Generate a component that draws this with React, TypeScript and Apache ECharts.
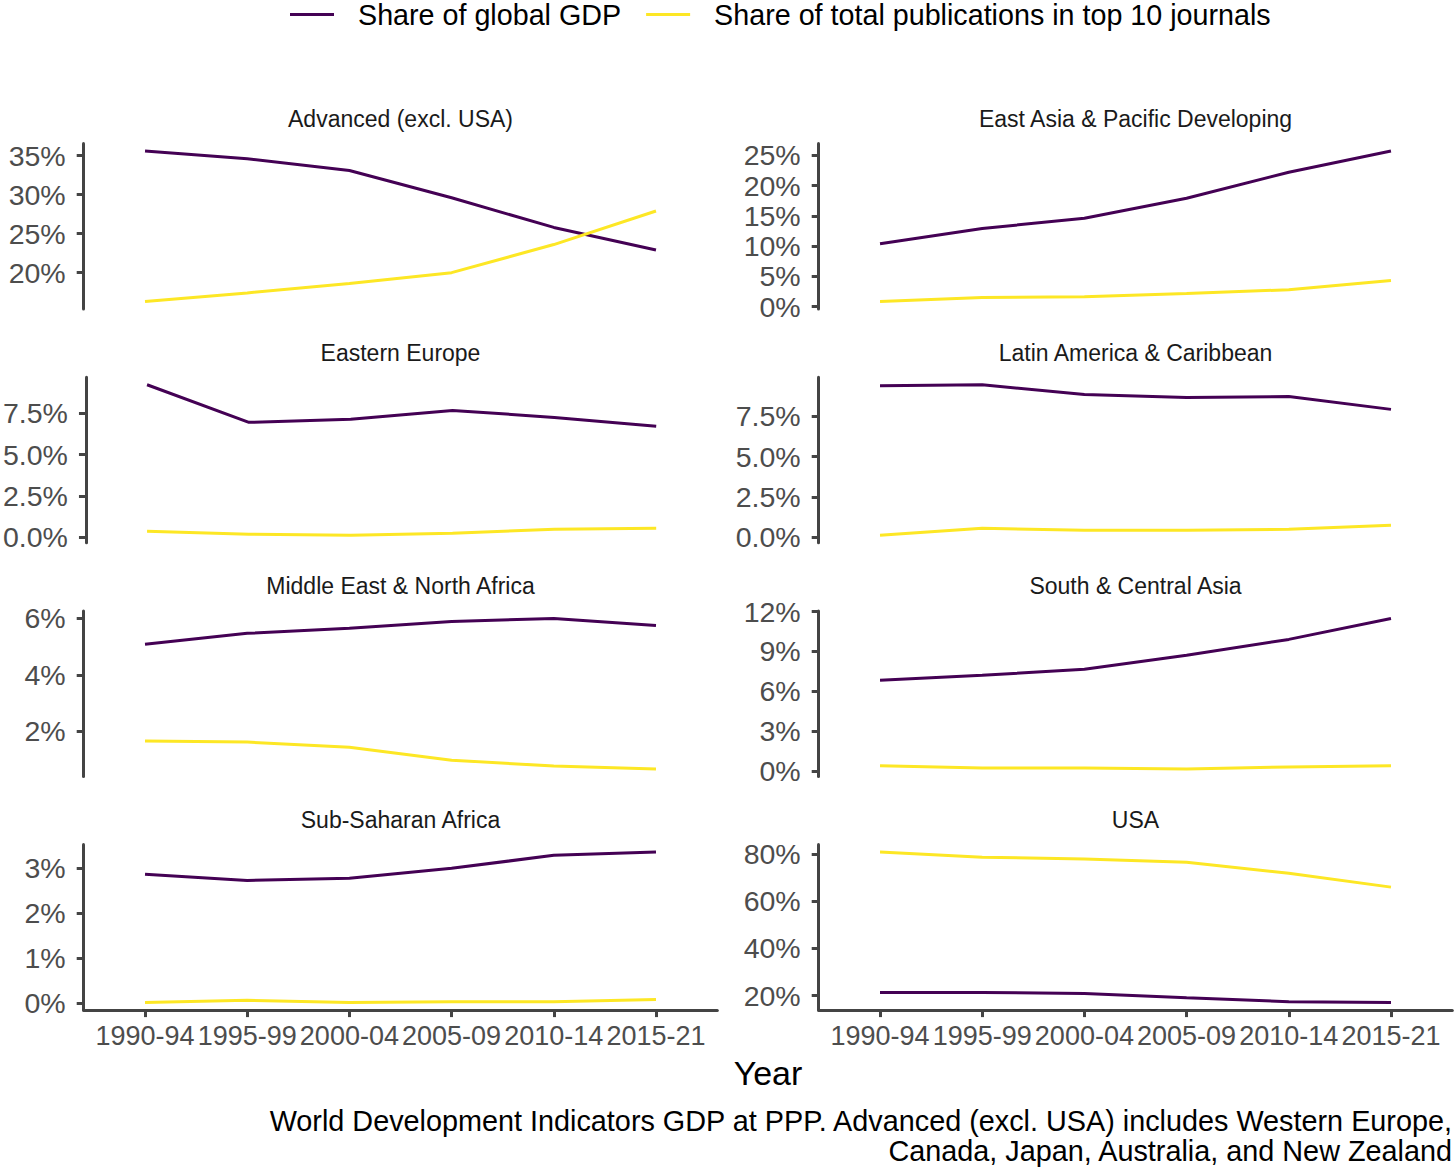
import React, { useEffect, useRef } from "react";
import * as echarts from "echarts";

const periods = ["1990-94", "1995-99", "2000-04", "2005-09", "2010-14", "2015-21"];
const seriesNames = ["Share of global GDP", "Share of total publications in top 10 journals"];
const regionNames = [
  "Advanced (excl. USA)",
  "East Asia & Pacific Developing",
  "Eastern Europe",
  "Latin America & Caribbean",
  "Middle East & North Africa",
  "South & Central Asia",
  "Sub-Saharan Africa",
  "USA",
];

const gdpAdvanced = [35.6, 34.6, 33.1, 29.6, 25.8, 22.9];
const pubAdvanced = [16.3, 17.4, 18.6, 20.0, 23.6, 27.9];
const gdpEastAsia = [10.4, 12.9, 14.6, 17.9, 22.2, 25.7];
const pubEastAsia = [0.85, 1.5, 1.65, 2.15, 2.8, 4.3];
const gdpEasternEurope = [9.24, 6.96, 7.14, 7.68, 7.26, 6.72];
const pubEasternEurope = [0.36, 0.18, 0.12, 0.24, 0.48, 0.54];
const gdpLatAm = [9.4, 9.46, 8.85, 8.67, 8.73, 7.93];
const pubLatAm = [0.12, 0.55, 0.43, 0.43, 0.49, 0.74];
const gdpMENA = [5.08, 5.47, 5.65, 5.89, 6.0, 5.75];
const pubMENA = [1.65, 1.61, 1.43, 0.97, 0.76, 0.66];
const gdpSCAsia = [6.83, 7.2, 7.65, 8.7, 9.9, 11.48];
const pubSCAsia = [0.38, 0.22, 0.22, 0.15, 0.3, 0.38];
const gdpSSA = [2.87, 2.73, 2.78, 3.0, 3.29, 3.36];
const pubSSA = [0.02, 0.07, 0.02, 0.04, 0.04, 0.09];
const gdpUSA = [21.3, 21.3, 20.85, 19.1, 17.4, 17.0];
const pubUSA = [80.85, 78.7, 77.9, 76.6, 71.9, 66.0];

const ticksAdvanced = [20, 25, 30, 35];
const ticksEastAsia = [0, 5, 10, 15, 20, 25];
const ticksEasternEurope = [0, 2.5, 5, 7.5];
const ticksLatAm = [0, 2.5, 5, 7.5];
const ticksMENA = [2, 4, 6];
const ticksSCAsia = [0, 3, 6, 9, 12];
const ticksSSA = [0, 1, 2, 3];
const ticksUSA = [20, 40, 60, 80];
const tickDecimals = [0, 0, 1, 1, 0, 0, 0, 0];

const gdpSeries = [gdpAdvanced, gdpEastAsia, gdpEasternEurope, gdpLatAm, gdpMENA, gdpSCAsia, gdpSSA, gdpUSA];
const pubSeries = [pubAdvanced, pubEastAsia, pubEasternEurope, pubLatAm, pubMENA, pubSCAsia, pubSSA, pubUSA];
const tickSets = [ticksAdvanced, ticksEastAsia, ticksEasternEurope, ticksLatAm, ticksMENA, ticksSCAsia, ticksSSA, ticksUSA];

const FONT = "'Liberation Sans', Arial, sans-serif";
const PURPLE = "#440154";
const YELLOW = "#FDE725";
const AXIS = "#444444";

export default function App() {
  const ref = useRef<HTMLDivElement>(null);
  useEffect(() => {
    if (!ref.current) return;
    const chart = echarts.init(ref.current, undefined, { renderer: "svg" });
    const colLeft = [83.7, 818.7];
    const panelW = 633.6;
    const panelH = 165.5;
    const top0 = 143.5;
    const rowStep = 233.7;
    const idx = periods.map((_, j) => j);

    const grids: any[] = [];
    const xAxes: any[] = [];
    const yAxes: any[] = [];
    const series: any[] = [];
    const graphics: any[] = [];

    regionNames.forEach((name, i) => {
      const col = i % 2;
      const row = Math.floor(i / 2);
      const left = colLeft[col];
      const top = top0 + row * rowStep;
      const bottomRow = row === 3;
      grids.push({ left, top, width: panelW, height: panelH, containLabel: false });
      xAxes.push({
        type: "value",
        gridIndex: i,
        min: -0.6,
        max: 5.6,
        show: true,
        axisLine: { show: bottomRow, onZero: false, lineStyle: { color: AXIS, width: 3 } },
        axisTick: { show: bottomRow, customValues: idx, length: 7, lineStyle: { color: AXIS, width: 3 } },
        axisLabel: {
          show: bottomRow,
          customValues: idx,
          formatter: (v: number) => periods[Math.round(v)] ?? "",
          fontSize: 27,
          fontFamily: FONT,
          color: "#4D4D4D",
          margin: 12,
        },
        splitLine: { show: false },
      });
      const dec = tickDecimals[i];
      yAxes.push({
        type: "value",
        gridIndex: i,
        min: (e: any) => e.min - 0.05 * (e.max - e.min),
        max: (e: any) => e.max + 0.05 * (e.max - e.min),
        scale: true,
        axisLine: { show: true, onZero: false, lineStyle: { color: AXIS, width: 3 } },
        axisTick: { show: true, customValues: tickSets[i], length: 7, lineStyle: { color: AXIS, width: 3 } },
        axisLabel: {
          customValues: tickSets[i],
          formatter: (v: number) => v.toFixed(dec) + "%",
          fontSize: 28.5,
          fontFamily: FONT,
          color: "#4D4D4D",
          margin: 18,
        },
        splitLine: { show: false },
      });
      series.push({
        type: "line",
        name: seriesNames[0],
        xAxisIndex: i,
        yAxisIndex: i,
        data: gdpSeries[i].map((v, j) => [j, v]),
        symbol: "none",
        lineStyle: { color: PURPLE, width: 3 },
        itemStyle: { color: PURPLE },
        z: 2,
      });
      series.push({
        type: "line",
        name: seriesNames[1],
        xAxisIndex: i,
        yAxisIndex: i,
        data: pubSeries[i].map((v, j) => [j, v]),
        symbol: "none",
        lineStyle: { color: YELLOW, width: 3 },
        itemStyle: { color: YELLOW },
        z: 3,
      });
      graphics.push({
        type: "text",
        x: left + panelW / 2,
        y: top - 24.5,
        style: {
          text: name,
          fontSize: 23,
          fontFamily: FONT,
          fill: "#1A1A1A",
          textAlign: "center",
          textVerticalAlign: "middle",
        },
      });
    });

    graphics.push({
      type: "text",
      x: (colLeft[0] + colLeft[1] + panelW) / 2,
      y: 1073,
      style: { text: "Year", fontSize: 34, fontFamily: FONT, fill: "#000", textAlign: "center", textVerticalAlign: "middle" },
    });
    graphics.push({
      type: "text",
      x: 1452,
      y: 1106,
      style: {
        text: "World Development Indicators GDP at PPP. Advanced (excl. USA) includes Western Europe,\nCanada, Japan, Australia, and New Zealand",
        fontSize: 28.8,
        lineHeight: 30,
        fontFamily: FONT,
        fill: "#000",
        textAlign: "right",
        textVerticalAlign: "top",
      },
    });

    chart.setOption({
      animation: false,
      backgroundColor: "#ffffff",
      legend: {
        data: seriesNames,
        left: 290,
        top: 0,
        padding: 0,
        icon: "rect",
        itemWidth: 44,
        itemHeight: 3,
        itemGap: 25,
        textStyle: { fontSize: 28.7, fontFamily: FONT, color: "#000", padding: [0, 0, 0, 19] },
      },
      grid: grids,
      xAxis: xAxes,
      yAxis: yAxes,
      series,
      graphic: graphics,
    });
    return () => chart.dispose();
  }, []);
  return <div ref={ref} style={{ position: "fixed", left: 0, top: 0, width: 1456, height: 1168 }} />;
}
